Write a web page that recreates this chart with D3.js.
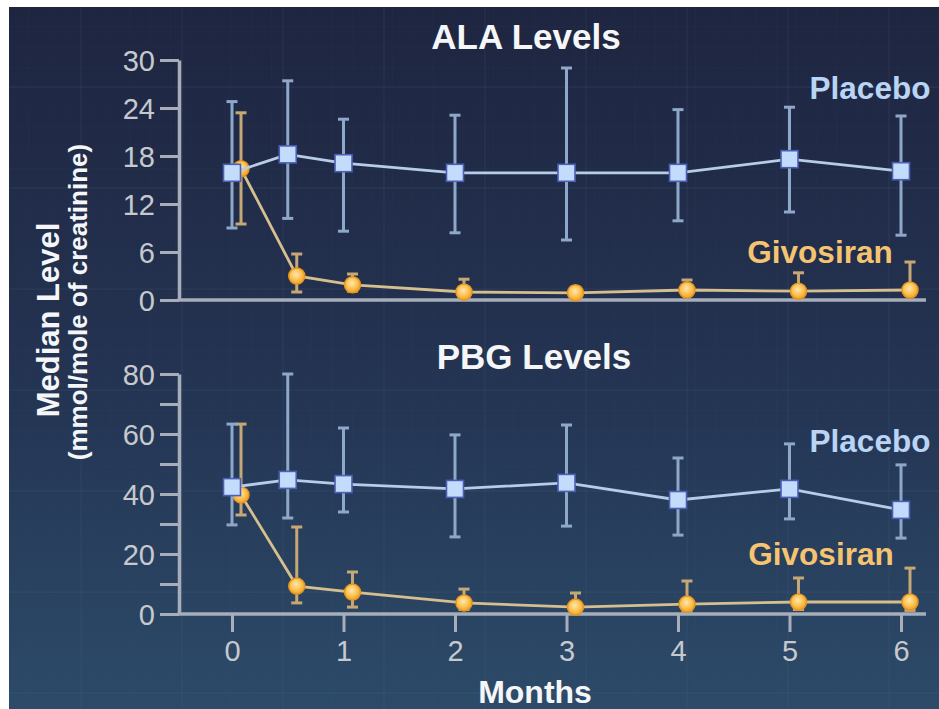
<!DOCTYPE html>
<html>
<head>
<meta charset="utf-8">
<script src="https://cdn.jsdelivr.net/npm/d3@7/dist/d3.min.js"></script>
<style>
  html, body { margin: 0; padding: 0; background: #ffffff; }
  svg { display: block; }
  text { font-family: "Liberation Sans", Arial, Helvetica, sans-serif; }
</style>
</head>
<body>
<svg id="chart" width="939" height="709"></svg>
<script>
// ---------- data ----------
const months = [0, 0.5, 1, 2, 3, 4, 5, 6];
const xTicks = [0, 1, 2, 3, 4, 5, 6];

const alaTicks = [0, 6, 12, 18, 24, 30];
const alaPlacebo     = [15.9, 18.2, 17.1, 15.9, 15.9, 15.9, 17.6, 16.1];
const alaPlaceboHi   = [24.8, 27.4, 22.6, 23.1, 29.0, 23.8, 24.1, 23.0];
const alaPlaceboLo   = [9.0, 10.2, 8.6, 8.4, 7.5, 9.9, 11.0, 8.1];
const alaGivosiran   = [16.4, 3.0, 1.9, 1.0, 0.9, 1.25, 1.1, 1.25];
const alaGivosiranHi = [23.4, 5.75, 3.25, 2.6, 1.6, 2.5, 3.4, 4.75];
const alaGivosiranLo = [9.5, 1.0, 1.1, 0.5, 0.3, 0.7, 0.5, 0.6];

const pbgTicks = [0, 20, 40, 60, 80];
const pbgMinorTicks = [10, 30, 50, 70];
const pbgPlacebo     = [42.3, 44.7, 43.3, 41.7, 43.7, 38.0, 41.7, 34.7];
const pbgPlaceboHi   = [63.3, 80.0, 62.0, 59.7, 63.0, 52.0, 56.7, 49.7];
const pbgPlaceboLo   = [29.7, 32.0, 34.0, 25.7, 29.3, 26.3, 31.7, 25.3];
const pbgGivosiran   = [39.7, 9.3, 7.3, 3.7, 2.3, 3.3, 4.0, 4.0];
const pbgGivosiranHi = [63.3, 29.0, 14.0, 8.3, 7.0, 11.0, 12.0, 15.3];
const pbgGivosiranLo = [33.0, 3.7, 2.3, 1.5, 0.8, 1.0, 1.5, 1.2];

// ---------- layout / style ----------
const W = 939, H = 709;
const svg = d3.select("#chart");
const defs = svg.append("defs");

const bg = defs.append("linearGradient").attr("id", "bg").attr("x1", 0).attr("y1", 0).attr("x2", 0).attr("y2", 1);
bg.append("stop").attr("offset", "0%").attr("stop-color", "#1e2540");
bg.append("stop").attr("offset", "55%").attr("stop-color", "#243453");
bg.append("stop").attr("offset", "100%").attr("stop-color", "#2c4b69");

const rg = defs.append("radialGradient").attr("id", "orb").attr("cx", "45%").attr("cy", "40%").attr("r", "60%");
rg.append("stop").attr("offset", "0%").attr("stop-color", "#ffe7ae");
rg.append("stop").attr("offset", "55%").attr("stop-color", "#fbc457");
rg.append("stop").attr("offset", "100%").attr("stop-color", "#f0a224");

// white border (top & left) then background
svg.append("rect").attr("x", 0).attr("y", 0).attr("width", W).attr("height", H).attr("fill", "#ffffff");
svg.append("rect").attr("x", 9).attr("y", 7).attr("width", W - 9).attr("height", H - 7).attr("fill", "url(#bg)");

// faint background grid texture
const grid = svg.append("g").attr("stroke", "#5a7090");
for (let gx = 29; gx < W; gx += 20.2) {
  grid.append("line").attr("x1", gx).attr("x2", gx).attr("y1", 7).attr("y2", H)
    .attr("stroke-opacity", 0.05).attr("stroke-width", 1);
}
for (let gy = 27; gy < H; gy += 20.2) {
  grid.append("line").attr("x1", 9).attr("x2", W).attr("y1", gy).attr("y2", gy)
    .attr("stroke-opacity", 0.05).attr("stroke-width", 1);
}
for (let gx = 81; gx < W; gx += 101) {
  grid.append("line").attr("x1", gx).attr("x2", gx).attr("y1", 7).attr("y2", H)
    .attr("stroke-opacity", 0.12).attr("stroke-width", 1.5);
}
for (let gy = 87; gy < H; gy += 101) {
  grid.append("line").attr("x1", 9).attr("x2", W).attr("y1", gy).attr("y2", gy)
    .attr("stroke-opacity", 0.12).attr("stroke-width", 1.5);
}

const x = d3.scaleLinear().domain([0, 6]).range([232, 901]);
const dodge = 9; // px shift of the Givosiran series
const axisX0 = 179, axisX1 = 926;
const axisColor = "#a7aeba";
const tickTextColor = "#c6c9ce";

const yTop = d3.scaleLinear().domain([0, 30]).range([300, 60]);
const yBot = d3.scaleLinear().domain([0, 80]).range([614, 374]);

function drawPanel(y, ticks, minor, P, PHi, PLo, G, GHi, GLo, title, titleY, plX, plY, gvX, gvY, withXTicks) {
  const g = svg.append("g");

  // y axis
  const yAxis = d3.axisLeft(y).tickValues(ticks.concat(minor)).tickSize(19).tickSizeOuter(0).tickPadding(5)
    .tickFormat(d => ticks.includes(d) ? d : "");
  const ya = g.append("g").attr("transform", `translate(${axisX0},0)`).call(yAxis);
  ya.select(".domain").attr("stroke", axisColor).attr("stroke-width", 3.5);
  ya.selectAll(".tick line").attr("stroke", axisColor).attr("stroke-width", 3);
  ya.selectAll(".tick text").attr("fill", tickTextColor).attr("font-size", 29).attr("dy", "0.35em");

  // x axis
  const xAxis = d3.axisBottom(x).tickValues(xTicks).tickSize(withXTicks ? 18 : 0).tickSizeOuter(0).tickPadding(8)
    .tickFormat(withXTicks ? d3.format("d") : () => "");
  const xa = g.append("g").attr("transform", `translate(0,${y(0)})`).call(xAxis);
  xa.select(".domain").remove();
  xa.append("line").attr("x1", axisX0 - 1.5).attr("x2", axisX1).attr("y1", 0).attr("y2", 0)
    .attr("stroke", axisColor).attr("stroke-width", 3.5);
  xa.selectAll(".tick line").attr("stroke", axisColor).attr("stroke-width", 3);
  xa.selectAll(".tick text").attr("fill", tickTextColor).attr("font-size", 29);

  const series = [
    { v: G, hi: GHi, lo: GLo, off: dodge, line: "#d6bf8e", err: "#c6a877", kind: "circle" },
    { v: P, hi: PHi, lo: PLo, off: 0, line: "#b7cce8", err: "#8ea8ca", kind: "square" }
  ];

  series.forEach(s => {
    const data = months.map((m, i) => ({ m, v: s.v[i], hi: s.hi[i], lo: s.lo[i] }));
    const px = d => x(d.m) + s.off;
    const eb = g.append("g").attr("stroke", s.err).attr("stroke-width", 3).attr("fill", "none");
    eb.selectAll(".v").data(data).enter().append("line")
      .attr("x1", px).attr("x2", px).attr("y1", d => y(d.hi)).attr("y2", d => y(d.lo));
    eb.selectAll(".ct").data(data).enter().append("line")
      .attr("x1", d => px(d) - 5.5).attr("x2", d => px(d) + 5.5).attr("y1", d => y(d.hi)).attr("y2", d => y(d.hi));
    eb.selectAll(".cb").data(data).enter().append("line")
      .attr("x1", d => px(d) - 5.5).attr("x2", d => px(d) + 5.5).attr("y1", d => y(d.lo)).attr("y2", d => y(d.lo));

    g.append("path").datum(data)
      .attr("d", d3.line().x(px).y(d => y(d.v)))
      .attr("fill", "none").attr("stroke", s.line).attr("stroke-width", 2.8);

    if (s.kind === "square") {
      g.selectAll(null).data(data).enter().append("rect")
        .attr("x", d => px(d) - 8.5).attr("y", d => y(d.v) - 8.5)
        .attr("width", 17).attr("height", 17)
        .attr("fill", "#c3dcfb").attr("stroke", "#4b5fb6").attr("stroke-width", 1.6);
    } else {
      g.selectAll(null).data(data).enter().append("circle")
        .attr("cx", px).attr("cy", d => y(d.v)).attr("r", 8)
        .attr("fill", "url(#orb)").attr("stroke", "#e8961c").attr("stroke-width", 1.5);
    }
  });

  g.append("text").attr("x", titleY[0]).attr("y", titleY[1]).attr("text-anchor", "middle")
    .attr("font-size", 35).attr("font-weight", "bold").attr("fill", "#f5f6f8").text(title);
  g.append("text").attr("x", plX).attr("y", plY).attr("text-anchor", "middle")
    .attr("font-size", 31.5).attr("font-weight", "bold").attr("fill", "#b9d4f4").text("Placebo");
  g.append("text").attr("x", gvX).attr("y", gvY).attr("text-anchor", "middle")
    .attr("font-size", 31.5).attr("font-weight", "bold").attr("fill", "#f6c470").text("Givosiran");
}

drawPanel(yTop, alaTicks, [], alaPlacebo, alaPlaceboHi, alaPlaceboLo, alaGivosiran, alaGivosiranHi, alaGivosiranLo,
  "ALA Levels", [526, 49], 870, 99, 820, 263, false);
drawPanel(yBot, pbgTicks, pbgMinorTicks, pbgPlacebo, pbgPlaceboHi, pbgPlaceboLo, pbgGivosiran, pbgGivosiranHi, pbgGivosiranLo,
  "PBG Levels", [534, 369], 870, 452, 821, 565, true);

// axis titles
svg.append("text").attr("x", 535).attr("y", 703).attr("text-anchor", "middle")
  .attr("font-size", 32).attr("font-weight", "bold").attr("fill", "#f5f6f8").text("Months");
svg.append("text").attr("transform", "translate(59,320) rotate(-90)").attr("text-anchor", "middle")
  .attr("font-size", 31).attr("font-weight", "bold").attr("fill", "#f5f6f8").text("Median Level");
svg.append("text").attr("transform", "translate(87,302) rotate(-90)").attr("text-anchor", "middle")
  .attr("font-size", 26).attr("font-weight", "bold").attr("fill", "#f5f6f8").text("(mmol/mole of creatinine)");
</script>
</body>
</html>
